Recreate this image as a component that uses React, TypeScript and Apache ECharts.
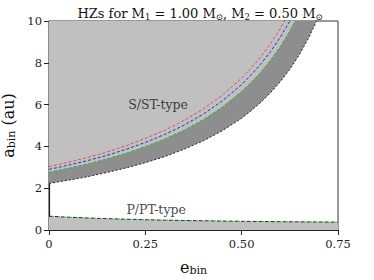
import React, { useEffect, useRef } from "react";
import * as echarts from "echarts";

// e_bin sample points for the S/ST-type boundaries
const eS = [0, 0.05, 0.1, 0.15, 0.2, 0.25, 0.3, 0.35, 0.4, 0.45, 0.5, 0.525, 0.55, 0.575, 0.6, 0.625, 0.65, 0.675, 0.7, 0.725];
// lower (outer-edge) boundary, dashed black
const blackS = [2.23, 2.38, 2.55, 2.75, 2.97, 3.22, 3.51, 3.86, 4.26, 4.75, 5.35, 5.71, 6.11, 6.57, 7.09, 7.69, 8.4, 9.23, 10.23, 11.47];
// green dashed
const greenS = [2.76, 2.95, 3.16, 3.4, 3.67, 3.99, 4.35, 4.77, 5.27, 5.88, 6.63, 7.07, 7.56, 8.13, 8.77, 9.52, 10.39, 11.42];
// blue dashed
const blueS = [2.9, 3.1, 3.32, 3.57, 3.86, 4.19, 4.57, 5.01, 5.54, 6.18, 6.96, 7.43, 7.95, 8.54, 9.22, 10.0, 10.92];
// red dashed
const redS = [3.03, 3.24, 3.47, 3.73, 4.03, 4.38, 4.77, 5.24, 5.79, 6.46, 7.27, 7.76, 8.3, 8.93, 9.63, 10.45];

// P/PT-type boundary
const eP = [0, 0.05, 0.1, 0.15, 0.2, 0.25, 0.3, 0.35, 0.4, 0.45, 0.5, 0.55, 0.6, 0.65, 0.7, 0.75];
const pType = [0.66, 0.614, 0.576, 0.544, 0.517, 0.493, 0.473, 0.456, 0.441, 0.428, 0.416, 0.406, 0.397, 0.39, 0.383, 0.378];

const xTicks = [0, 0.25, 0.5, 0.75];
const yTicks = [0, 2, 4, 6, 8, 10];

const regionLabels = [
  { name: "S/ST-type", e: 0.283, a: 6.0 },
  { name: "P/PT-type", e: 0.278, a: 0.98 },
];

const FONT = "DejaVu Serif";
const LIGHT = "#c0c0c0";
const DARK = "#8e8e8e";

const pairs = (xs: number[], ys: number[]) => ys.map((y, i) => [xs[i], y]);

export default function App() {
  const ref = useRef<HTMLDivElement>(null);
  useEffect(() => {
    if (!ref.current) return;
    const chart = echarts.init(ref.current, null, { renderer: "svg" });
    const dashLine = (color: string, dash: number[], width = 1, offset = 0) => ({
      color,
      width,
      type: dash,
      dashOffset: offset,
    });
    const option: any = {
      animation: false,
      backgroundColor: "#ffffff",
      title: {
        text: "HZs for M{s|1} = 1.00 M{s|⊙}, M{s|2} = 0.50 M{s|⊙}",
        left: 195,
        textAlign: "center",
        top: 1,
        textStyle: {
          fontFamily: FONT,
          fontSize: 13,
          fontWeight: "normal",
          color: "#111",
          rich: {
            s: { fontFamily: FONT, fontSize: 8.5, color: "#111", padding: [6, 0, 0, 0] },
          },
        },
      },
      grid: {
        left: 49,
        right: 36,
        top: 21,
        bottom: 50,
        outerBoundsMode: "none",
        containLabel: false,
        show: true,
        borderColor: "#333",
        borderWidth: 1,
        backgroundColor: "transparent",
      },
      xAxis: {
        type: "value",
        min: 0,
        max: 0.75,
        interval: 0.25,
        name: "e{s|bin}",
        nameLocation: "middle",
        nameGap: 28,
        nameMoveOverlap: false,
        nameTextStyle: {
          fontFamily: FONT,
          fontSize: 16,
          color: "#111",
          rich: { s: { fontFamily: FONT, fontSize: 11, color: "#111", padding: [7, 0, 0, 0] } },
        },
        axisLine: { show: true, lineStyle: { color: "#222", width: 1.2 } },
        axisTick: { show: true, inside: false, length: 5, lineStyle: { color: "#222" } },
        axisLabel: {
          fontFamily: FONT,
          fontSize: 11.5,
          color: "#222",
          margin: 8,
          formatter: (v: number) => (v === 0 ? "0" : v.toFixed(2)),
        },
        splitLine: { show: false },
      },
      yAxis: {
        type: "value",
        min: 0,
        max: 10,
        interval: 2,
        name: "a{s|bin} (au)",
        nameLocation: "middle",
        nameGap: 32,
        nameMoveOverlap: false,
        nameTextStyle: {
          fontFamily: FONT,
          fontSize: 16,
          color: "#111",
          rich: { s: { fontFamily: FONT, fontSize: 11, color: "#111", padding: [6, 0, 0, 0] } },
        },
        axisLine: { show: true, lineStyle: { color: "#222", width: 1.2 } },
        axisTick: { show: true, inside: false, length: 5, lineStyle: { color: "#222" } },
        axisLabel: {
          fontFamily: FONT,
          fontSize: 11.5,
          color: "#222",
          margin: 7,
          formatter: (v: number) => (yTicks.includes(v) ? String(v) : ""),
        },
        splitLine: { show: false },
      },
      series: [
        {
          type: "line",
          data: pairs(eS, blackS),
          symbol: "none",
          lineStyle: { width: 0 },
          areaStyle: { color: DARK, opacity: 1, origin: "end" },
          z: 1,
        },
        {
          type: "line",
          data: pairs(eS, greenS),
          symbol: "none",
          lineStyle: { width: 0 },
          areaStyle: { color: LIGHT, opacity: 1, origin: "end" },
          z: 2,
        },
        {
          type: "line",
          data: pairs(eP, pType),
          symbol: "none",
          lineStyle: { width: 0 },
          areaStyle: { color: LIGHT, opacity: 1, origin: "start" },
          z: 2,
        },
        {
          type: "line",
          data: pairs(eS, redS),
          symbol: "none",
          lineStyle: dashLine("#f04848", [3, 2]),
          z: 5,
        },
        {
          type: "line",
          data: pairs(eS, blueS),
          symbol: "none",
          lineStyle: dashLine("#2a2ad8", [3, 2]),
          z: 5,
        },
        {
          type: "line",
          data: pairs(eS, greenS),
          symbol: "none",
          lineStyle: dashLine("#22c022", [3, 2]),
          z: 5,
        },
        {
          type: "line",
          data: pairs(eS, blackS),
          symbol: "none",
          lineStyle: dashLine("#222", [2, 2]),
          z: 5,
        },
        {
          type: "line",
          data: pairs(eP, pType),
          symbol: "none",
          lineStyle: dashLine("#222", [3, 3]),
          z: 5,
        },
        {
          type: "line",
          data: pairs(eP, pType),
          symbol: "none",
          lineStyle: dashLine("#22c022", [2, 4], 1, 3),
          z: 6,
        },
        {
          type: "scatter",
          data: regionLabels.map((r) => ({ value: [r.e, r.a], name: r.name })),
          symbolSize: 0,
          z: 10,
          label: {
            show: true,
            position: "inside",
            formatter: (p: any) => p.name,
            fontFamily: FONT,
            fontSize: 12.5,
            color: "#111",
          },
        },
      ],
    };
    chart.setOption(option);
    return () => chart.dispose();
  }, []);
  return (
    <div
      ref={ref}
      style={{ position: "fixed", left: 0, top: 0, width: 374, height: 280 }}
    />
  );
}
